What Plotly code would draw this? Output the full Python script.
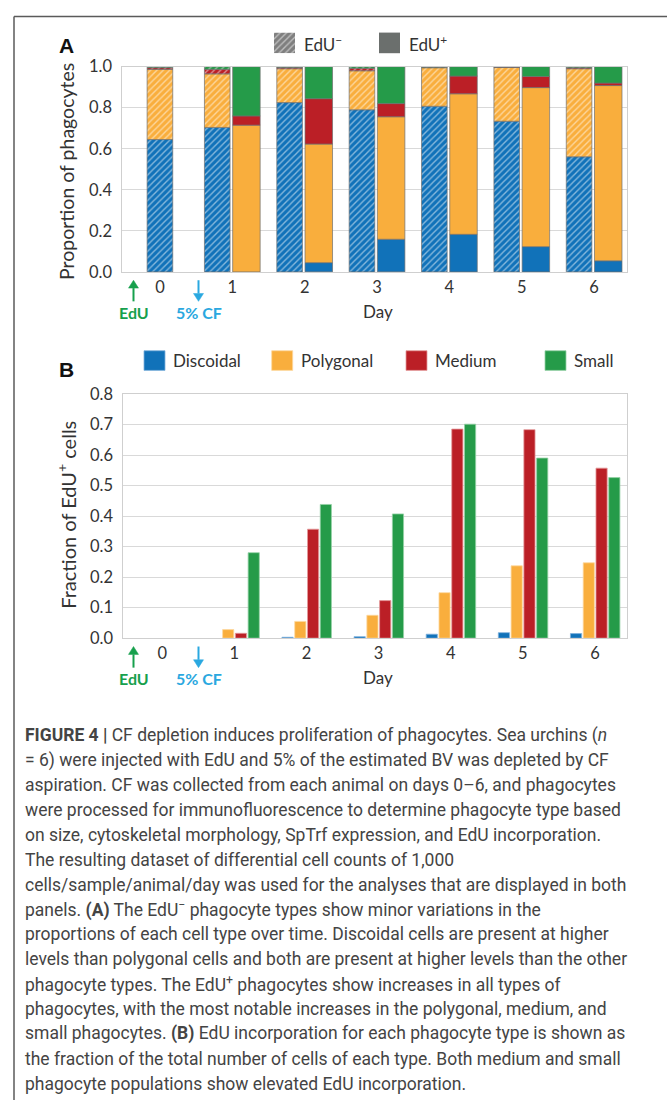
import plotly.graph_objects as go
import numpy as np

# ---------------- data ----------------
days = [0, 1, 2, 3, 4, 5, 6]
day_labels = ["0", "1", "2", "3", "4", "5", "6"]
cell_types = ["Discoidal", "Polygonal", "Medium", "Small"]

# Panel A: proportion of phagocytes (EdU- and EdU+), stacked
edu_neg_discoidal = [0.645, 0.704, 0.825, 0.790, 0.807, 0.734, 0.561]
edu_neg_polygonal = [0.342, 0.261, 0.165, 0.190, 0.188, 0.262, 0.429]
edu_neg_medium    = [0.008, 0.022, 0.006, 0.012, 0.002, 0.002, 0.005]
edu_neg_small     = [0.005, 0.013, 0.004, 0.008, 0.005, 0.002, 0.005]

edu_pos_discoidal = [None, 0.000, 0.045, 0.159, 0.183, 0.123, 0.054]
edu_pos_polygonal = [None, 0.715, 0.578, 0.597, 0.685, 0.775, 0.854]
edu_pos_medium    = [None, 0.045, 0.221, 0.064, 0.086, 0.054, 0.012]
edu_pos_small     = [None, 0.240, 0.156, 0.180, 0.046, 0.048, 0.080]

# Panel B: fraction of EdU+ cells
frac_discoidal = [0.000, 0.000, 0.003, 0.005, 0.013, 0.018, 0.015]
frac_polygonal = [0.000, 0.028, 0.055, 0.075, 0.149, 0.237, 0.247]
frac_medium    = [0.000, 0.016, 0.357, 0.123, 0.685, 0.683, 0.557]
frac_small     = [0.000, 0.280, 0.438, 0.407, 0.701, 0.590, 0.526]

ya_ticks = [0.0, 0.2, 0.4, 0.6, 0.8, 1.0]
yb_ticks = [0.0, 0.1, 0.2, 0.3, 0.4, 0.5, 0.6, 0.7, 0.8]

# ---------------- style ----------------
W, H = 667, 1110
COLORS = {"Discoidal": "#1172b9", "Polygonal": "#f9ae3d", "Medium": "#bb1f26", "Small": "#259b49"}
EDGE_B = {"Discoidal": "#7fb0dc", "Polygonal": "#fcd8a0", "Medium": "#e49a9c", "Small": "#95d2a6"}
FONT = "Lato"
TXT = "#333333"
GRID = "#d9d9d9"
GREEN_TXT = "#17a04d"
BLUE_TXT = "#2aa8e0"


def px(x):
    return x / W


def py(y):
    return 1 - y / H


fig = go.Figure()

# ---- panel A bars ----
neg = [edu_neg_discoidal, edu_neg_polygonal, edu_neg_medium, edu_neg_small]
pos = [edu_pos_discoidal, edu_pos_polygonal, edu_pos_medium, edu_pos_small]

neg_arr = np.array(neg, dtype=float)
neg_base = np.vstack([np.zeros(len(days)), np.cumsum(neg_arr, axis=0)[:-1]])
pos_arr = np.array([[np.nan if v is None else v for v in row] for row in pos], dtype=float)
pos_base = np.vstack([np.zeros(len(days)), np.nancumsum(pos_arr, axis=0)[:-1]])

neg_offset = [-0.177 if d == 0 else -0.385 for d in days]
neg_width = 0.354
for i, ct in enumerate(cell_types):
    fig.add_trace(go.Bar(
        x=days, y=neg_arr[i], base=neg_base[i],
        offset=neg_offset, width=neg_width,
        marker=dict(color=COLORS[ct],
                    line=dict(color="#707070", width=0.7),
                    pattern=dict(shape="/", bgcolor=COLORS[ct], fgcolor="white",
                                 size=4.5, solidity=0.3)),
        xaxis="x", yaxis="y", showlegend=False, name=ct + " EdU-",
    ))
    yv = [None if (np.isnan(v) or v == 0) else v for v in pos_arr[i]]
    fig.add_trace(go.Bar(
        x=days, y=yv, base=pos_base[i],
        offset=0.005, width=0.38,
        marker=dict(color=COLORS[ct], line=dict(color="#707070", width=0.7)),
        xaxis="x", yaxis="y", showlegend=False, name=ct + " EdU+",
    ))

# ---- panel B bars ----
frac = [frac_discoidal, frac_polygonal, frac_medium, frac_small]
for i, ct in enumerate(cell_types):
    fig.add_trace(go.Bar(
        x=days, y=frac[i], offset=-0.34 + i * 0.177, width=0.155,
        marker=dict(color=COLORS[ct],
                    line=dict(color=EDGE_B[ct], width=[0 if v == 0 else 0.8 for v in frac[i]])),
        xaxis="x2", yaxis="y2", showlegend=False, name=ct,
    ))

# ---- hatched legend swatch (mini axis) ----
fig.add_trace(go.Bar(
    x=[0.5], y=[1], width=1,
    marker=dict(color="#7f7f7f", line=dict(width=0),
                pattern=dict(shape="/", bgcolor="#7f7f7f", fgcolor="white", size=4.5, solidity=0.3)),
    xaxis="x3", yaxis="y3", showlegend=False, hoverinfo="skip",
))

axis_common = dict(zeroline=False, showline=True, mirror=True,
                   linecolor="#cfcfcf", linewidth=1, fixedrange=True)
fig.update_layout(
    width=W, height=H, margin=dict(l=0, r=0, t=0, b=0),
    paper_bgcolor="white", plot_bgcolor="white",
    barmode="overlay", showlegend=False,
    font=dict(family=FONT, color=TXT),
    xaxis=dict(domain=[px(122.3), px(626.7)], range=[-0.52, 6.45],
               tickmode="array", tickvals=days, ticktext=day_labels, showgrid=False,
               tickfont=dict(size=16.5, family=FONT, color=TXT), ticks="", ticklabelstandoff=0,
               anchor="y", **axis_common),
    yaxis=dict(domain=[py(266.7), py(57.7)], range=[0, 1],
               tickmode="array", tickvals=ya_ticks, ticktext=[f"{v:.1f}" for v in ya_ticks],
               tickfont=dict(size=16.5, family=FONT, color=TXT), ticks="", ticklabelstandoff=6,
               showgrid=True, gridcolor=GRID, gridwidth=1,
               anchor="x", **axis_common),
    xaxis2=dict(domain=[px(123.3), px(626.7)], range=[-0.54, 6.44],
                tickmode="array", tickvals=days, ticktext=day_labels, showgrid=False,
                tickfont=dict(size=16.5, family=FONT, color=TXT), ticks="", ticklabelstandoff=0,
                anchor="y2", **axis_common),
    yaxis2=dict(domain=[py(639.7), py(391)], range=[0, 0.8],
                tickmode="array", tickvals=yb_ticks, ticktext=[f"{v:.1f}" for v in yb_ticks],
                tickfont=dict(size=16.5, family=FONT, color=TXT), ticks="", ticklabelstandoff=6,
                showgrid=True, gridcolor=GRID, gridwidth=1,
                anchor="x2", **axis_common),
    xaxis3=dict(domain=[px(274), px(295)], range=[0, 1], visible=False, fixedrange=True, anchor="y3"),
    yaxis3=dict(domain=[py(44), py(23)], range=[0, 1], visible=False, fixedrange=True, anchor="x3"),
)

shapes = []
ann = []

# frame lines
shapes.append(dict(type="line", xref="paper", yref="paper", x0=px(14), x1=1.0, y0=py(6.5), y1=py(6.5),
                   line=dict(color="#5a5a5a", width=1.5)))
shapes.append(dict(type="line", xref="paper", yref="paper", x0=px(14), x1=px(14), y0=py(6.5), y1=0,
                   line=dict(color="#5a5a5a", width=1.5)))

# panel letters
ann.append(dict(text="A", x=px(66), y=py(36), xref="paper", yref="paper", showarrow=False,
                font=dict(size=21, family="Liberation Sans", color="#111111", weight="bold"),
                xanchor="center", yanchor="middle"))
ann.append(dict(text="B", x=px(66.5), y=py(366), xref="paper", yref="paper", showarrow=False,
                font=dict(size=21, family="Liberation Sans", color="#111111", weight="bold"),
                xanchor="center", yanchor="middle"))

# legend A
shapes.append(dict(type="rect", xref="paper", yref="paper", x0=px(379), x1=px(400), y0=py(44), y1=py(23),
                   fillcolor="#6b6f6d", line=dict(width=0)))
ann.append(dict(text="EdU<sup>−</sup>", x=px(302), y=py(34), xref="paper", yref="paper", showarrow=False,
                font=dict(size=17, family=FONT, color=TXT), xanchor="left", yanchor="middle"))
ann.append(dict(text="EdU<sup>+</sup>", x=px(407), y=py(34), xref="paper", yref="paper", showarrow=False,
                font=dict(size=17, family=FONT, color=TXT), xanchor="left", yanchor="middle"))

# legend B
leg_b_x = {"Discoidal": 144, "Polygonal": 271.7, "Medium": 406, "Small": 545}
for ct in cell_types:
    x0 = leg_b_x[ct]
    shapes.append(dict(type="rect", xref="paper", yref="paper", x0=px(x0), x1=px(x0 + 21),
                       y0=py(367), y1=py(347), fillcolor=COLORS[ct],
                       line=dict(color=EDGE_B[ct], width=0.8)))
    ann.append(dict(text=ct, x=px(x0 + 27), y=py(357), xref="paper", yref="paper", showarrow=False,
                    font=dict(size=17, family=FONT, color=TXT), xanchor="left", yanchor="middle"))

# y titles
ann.append(dict(text="Proportion of phagocytes", x=px(66), y=py(165), xref="paper", yref="paper",
                showarrow=False, textangle=-90, font=dict(size=19.5, family=FONT, color=TXT),
                xanchor="center", yanchor="middle"))
ann.append(dict(text="Fraction of EdU<sup>+</sup> cells", x=px(66), y=py(514), xref="paper", yref="paper",
                showarrow=False, textangle=-90, font=dict(size=20, family=FONT, color=TXT),
                xanchor="center", yanchor="middle"))


def arrow(xc, y_tail, y_tip, color):
    """Vertical arrow drawn as line + triangular head (pixel coords)."""
    head = 8 if y_tip > y_tail else -8
    y_base = y_tip - head
    shapes.append(dict(type="line", xref="paper", yref="paper", x0=px(xc), x1=px(xc),
                       y0=py(y_tail), y1=py(y_base), line=dict(color=color, width=2)))
    path = (f"M {px(xc - 5)},{py(y_base)} L {px(xc + 5)},{py(y_base)} "
            f"L {px(xc)},{py(y_tip)} Z")
    shapes.append(dict(type="path", xref="paper", yref="paper", path=path,
                       fillcolor=color, line=dict(color=color, width=0.5)))


# x-axis extras (arrows, EdU, 5% CF, Day) for both panels
for axis_y in (266.7, 639.7):
    arrow(133.5, axis_y + 30, axis_y + 8.5, GREEN_TXT)   # up arrow
    arrow(198.5, axis_y + 8.5, axis_y + 30, BLUE_TXT)    # down arrow
    ann.append(dict(text="EdU", x=px(133.5), y=py(axis_y + 41.5), xref="paper", yref="paper",
                    showarrow=False, font=dict(size=16, family=FONT, color=GREEN_TXT, weight="bold"),
                    xanchor="center", yanchor="middle"))
    ann.append(dict(text="5% CF", x=px(198.5), y=py(axis_y + 41.5), xref="paper", yref="paper",
                    showarrow=False, font=dict(size=16, family=FONT, color=BLUE_TXT, weight="bold"),
                    xanchor="center", yanchor="middle"))
    ann.append(dict(text="Day", x=px(378), y=py(axis_y + 40), xref="paper", yref="paper",
                    showarrow=False, font=dict(size=17, family=FONT, color=TXT),
                    xanchor="center", yanchor="middle"))

# caption
caption_lines = [
    "<b>FIGURE 4 |</b> CF depletion induces proliferation of phagocytes. Sea urchins (<i>n</i>",
    "= 6) were injected with EdU and 5% of the estimated BV was depleted by CF",
    "aspiration. CF was collected from each animal on days 0–6, and phagocytes",
    "were processed for immunofluorescence to determine phagocyte type based",
    "on size, cytoskeletal morphology, SpTrf expression, and EdU incorporation.",
    "The resulting dataset of differential cell counts of 1,000",
    "cells/sample/animal/day was used for the analyses that are displayed in both",
    "panels. <b>(A)</b> The EdU<sup>−</sup> phagocyte types show minor variations in the",
    "proportions of each cell type over time. Discoidal cells are present at higher",
    "levels than polygonal cells and both are present at higher levels than the other",
    "phagocyte types. The EdU<sup>+</sup> phagocytes show increases in all types of",
    "phagocytes, with the most notable increases in the polygonal, medium, and",
    "small phagocytes. <b>(B)</b> EdU incorporation for each phagocyte type is shown as",
    "the fraction of the total number of cells of each type. Both medium and small",
    "phagocyte populations show elevated EdU incorporation.",
]
for i, line in enumerate(caption_lines):
    ann.append(dict(text=line, x=px(22.5), y=py(739 + 25.3 * i), xref="paper", yref="paper",
                    showarrow=False, font=dict(size=17.5, family="Roboto", color="#444444"),
                    xanchor="left", yanchor="middle"))

fig.update_layout(shapes=shapes, annotations=ann)
fig.write_html("out.html")
